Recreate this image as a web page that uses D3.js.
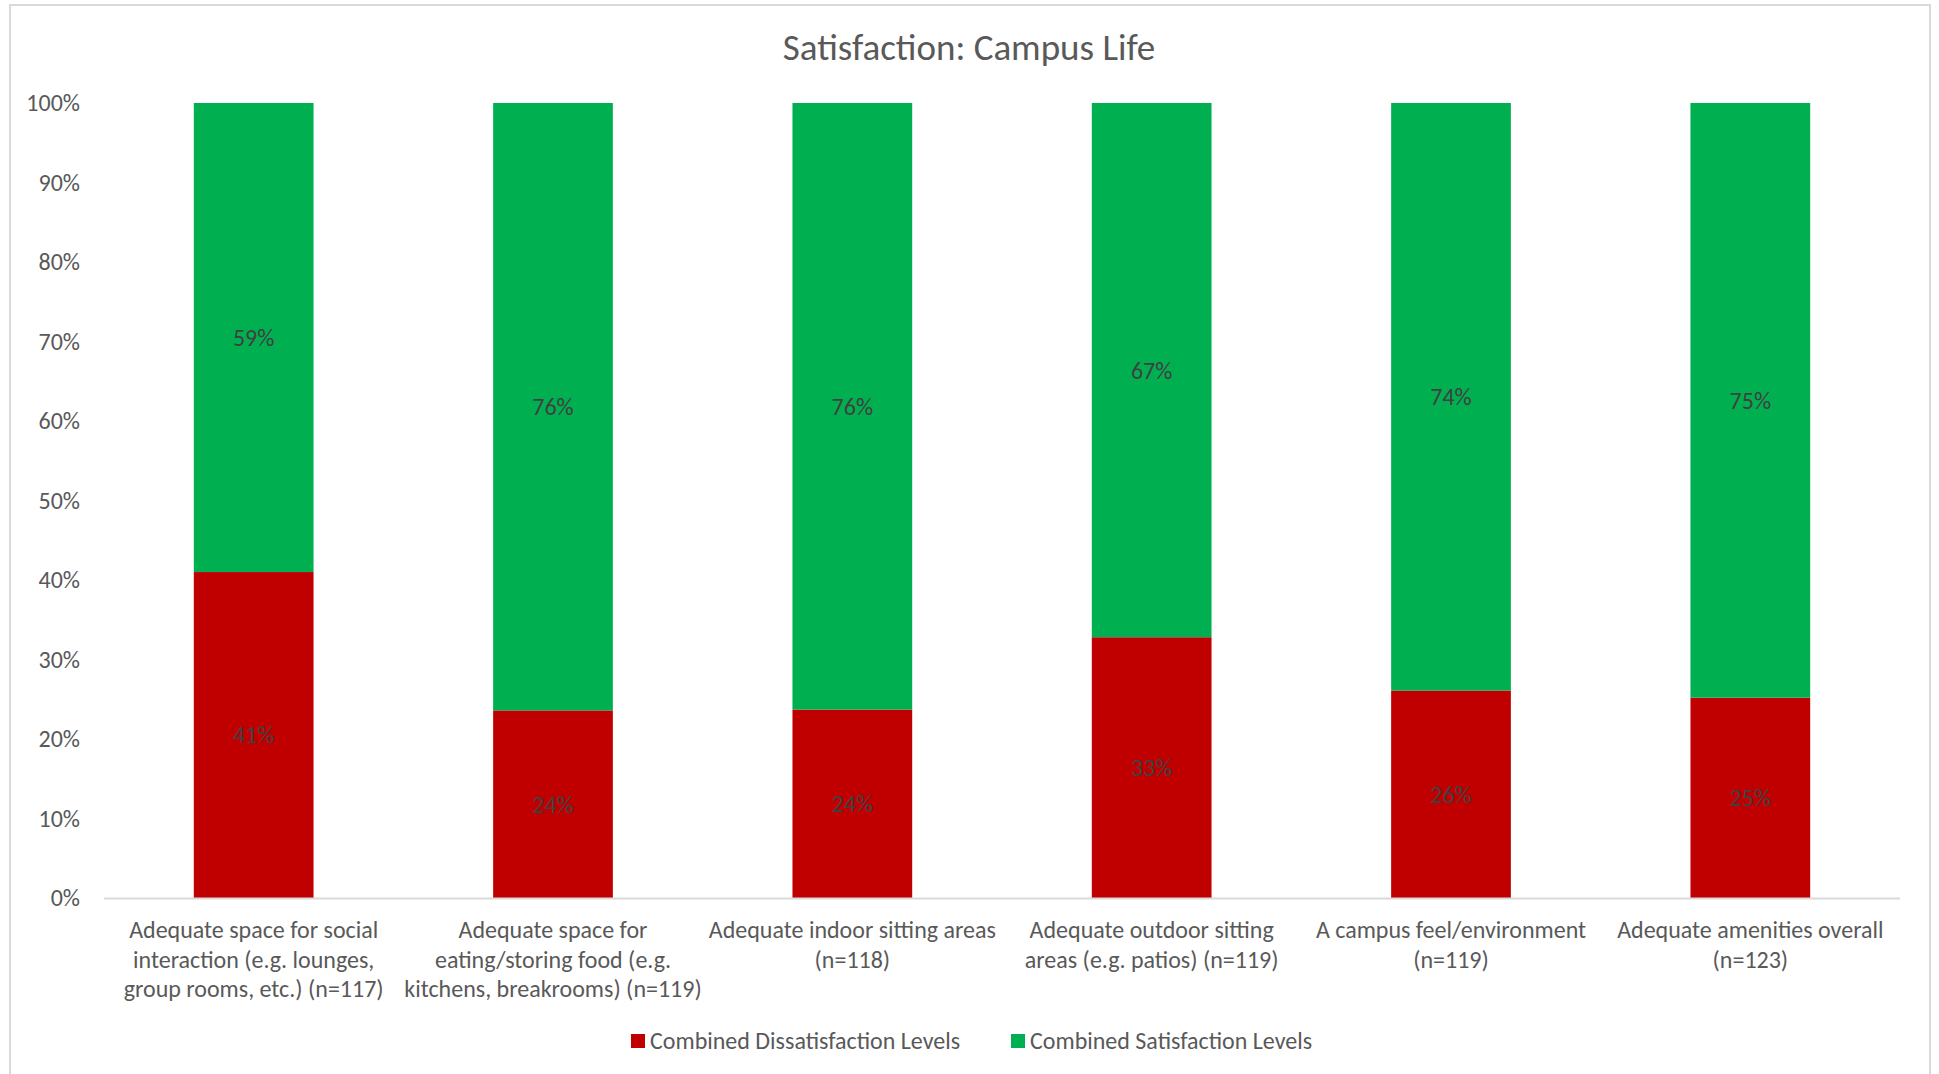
<!DOCTYPE html>
<html>
<head>
<meta charset="utf-8">
<script src="https://cdn.jsdelivr.net/npm/d3@7"></script>
<style>
  body { margin: 0; background: #fff; }
  .chart text { font-family: Carlito, Lato, sans-serif; fill: #595959; }
  .chart .dataLabel { fill: #404040; }
</style>
</head>
<body>
<div class="chart"></div>
<script>
// Chart data
var categories = [
  ["Adequate space for social", "interaction (e.g. lounges,", "group rooms, etc.) (n=117)"],
  ["Adequate space for", "eating/storing food (e.g.", "kitchens, breakrooms) (n=119)"],
  ["Adequate indoor sitting areas", "(n=118)"],
  ["Adequate outdoor sitting", "areas (e.g. patios) (n=119)"],
  ["A campus feel/environment", "(n=119)"],
  ["Adequate amenities overall", "(n=123)"]
];
var dissatisfied = [41.0, 23.6, 23.7, 32.8, 26.1, 25.2];
var satisfied = [59.0, 76.4, 76.3, 67.2, 73.9, 74.8];
var seriesNames = ["Combined Dissatisfaction Levels", "Combined Satisfaction Levels"];
var seriesColors = ["#c00000", "#00b050"];
var yTicks = [0, 10, 20, 30, 40, 50, 60, 70, 80, 90, 100];

// Define SVG area dimensions
var svgWidth = 1939;
var svgHeight = 1074;

var chartMargin = { top: 103, right: 39, bottom: 176, left: 104 };
var chartWidth = svgWidth - chartMargin.left - chartMargin.right;
var chartHeight = svgHeight - chartMargin.top - chartMargin.bottom;

var svg = d3.select(".chart")
  .append("svg")
  .attr("width", svgWidth)
  .attr("height", svgHeight);

// outer chart frame
svg.append("path")
  .attr("d", "M10,1074 V5 H1930 V1074")
  .attr("fill", "none")
  .attr("stroke", "#d9d9d9")
  .attr("stroke-width", 2);

// Title
svg.append("text")
  .attr("x", 969)
  .attr("y", 60)
  .attr("text-anchor", "middle")
  .style("font-size", "37px")
  .text("Satisfaction: Campus Life");

var chartGroup = svg.append("g")
  .attr("transform", `translate(${chartMargin.left}, ${chartMargin.top})`);

// build stacked rows
var rows = categories.map(function(c, i) {
  return { idx: i, dis: dissatisfied[i], sat: satisfied[i] };
});
var stack = d3.stack().keys(["dis", "sat"]);
var stacked = stack(rows);

var xBandScale = d3.scaleBand()
  .domain(d3.range(categories.length))
  .range([0, chartWidth])
  .paddingInner(0.6)
  .paddingOuter(0.3);

var yLinearScale = d3.scaleLinear()
  .domain([0, 100])
  .range([chartHeight, 0]);

// y axis (labels only)
var leftAxis = d3.axisLeft(yLinearScale)
  .tickValues(yTicks)
  .tickSize(0)
  .tickPadding(24)
  .tickFormat(d => d + "%");

var yAxisG = chartGroup.append("g").call(leftAxis);
yAxisG.select(".domain").remove();
yAxisG.selectAll("text").style("font-size", "24px").attr("fill", "#595959");

// bars
var layers = chartGroup.selectAll(".layer")
  .data(stacked)
  .enter()
  .append("g")
  .attr("class", "layer")
  .attr("fill", (d, i) => seriesColors[i]);

layers.selectAll("rect")
  .data(d => d)
  .enter()
  .append("rect")
  .attr("x", d => xBandScale(d.data.idx))
  .attr("y", d => yLinearScale(d[1]))
  .attr("width", xBandScale.bandwidth())
  .attr("height", d => yLinearScale(d[0]) - yLinearScale(d[1]));

// data labels
layers.selectAll(".dataLabel")
  .data(d => d)
  .enter()
  .append("text")
  .attr("class", "dataLabel")
  .attr("x", d => xBandScale(d.data.idx) + xBandScale.bandwidth() / 2)
  .attr("y", d => yLinearScale((d[0] + d[1]) / 2))
  .attr("dy", "0.35em")
  .attr("text-anchor", "middle")
  .style("font-size", "24px")
  .text(d => Math.round(d[1] - d[0]) + "%");

// x axis line
chartGroup.append("line")
  .attr("x1", 0)
  .attr("x2", chartWidth)
  .attr("y1", chartHeight + 0.5)
  .attr("y2", chartHeight + 0.5)
  .attr("stroke", "#d9d9d9")
  .attr("stroke-width", 2);

// category labels
var catG = chartGroup.selectAll(".cat")
  .data(categories)
  .enter()
  .append("text")
  .attr("class", "cat")
  .attr("text-anchor", "middle")
  .attr("transform", (d, i) => `translate(${xBandScale(i) + xBandScale.bandwidth() / 2}, ${chartHeight + 40})`)
  .style("font-size", "24px");

catG.selectAll("tspan")
  .data(d => d)
  .enter()
  .append("tspan")
  .attr("x", 0)
  .attr("y", (d, i) => i * 29.5)
  .text(d => d);

// legend
var legendX = [631, 1011];
var legend = svg.selectAll(".legend")
  .data(seriesNames)
  .enter()
  .append("g")
  .attr("class", "legend")
  .attr("transform", (d, i) => `translate(${legendX[i]}, 1041)`);

legend.append("rect")
  .attr("x", 0)
  .attr("y", -7)
  .attr("width", 14)
  .attr("height", 14)
  .attr("fill", (d, i) => seriesColors[i]);

legend.append("text")
  .attr("x", 19)
  .attr("y", 0)
  .attr("dy", "0.35em")
  .style("font-size", "24px")
  .text(d => d);
</script>
</body>
</html>
